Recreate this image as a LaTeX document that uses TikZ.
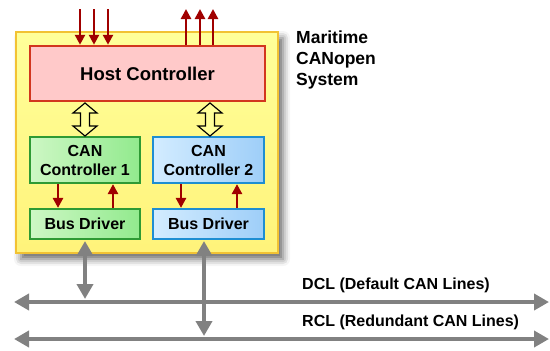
\documentclass[tikz,border=0pt]{standalone}
\usepackage{fontspec}
\setmainfont{Liberation Sans}[BoldFont={Liberation Sans Bold}]
\newfontfamily\bsans{Liberation Sans Bold}
\usetikzlibrary{arrows.meta,shadows.blur}
\definecolor{yfill}{HTML}{FFFF9A}
\definecolor{yfillB}{HTML}{FFF37A}
\definecolor{ydraw}{HTML}{F2C233}
\definecolor{pfill}{HTML}{FFC9C9}
\definecolor{pdraw}{HTML}{D2361E}
\definecolor{gfillL}{HTML}{CDF7C4}
\definecolor{gfillR}{HTML}{92EA8E}
\definecolor{gdraw}{HTML}{2E9A34}
\definecolor{bfillL}{HTML}{D3ECFF}
\definecolor{bfillR}{HTML}{9ECEF8}
\definecolor{bdraw}{HTML}{1E8ED2}
\definecolor{darkred}{HTML}{A00000}
\definecolor{bus}{HTML}{818181}
\tikzset{
  sysbox/.style={draw=ydraw, line width=2bp, top color=yfill, bottom color=yfillB,
    minimum width=262bp, minimum height=221bp, inner sep=0pt,
    blur shadow={shadow xshift=5bp, shadow yshift=-6bp, shadow blur radius=7bp, shadow opacity=60}},
  hostbox/.style={draw=pdraw, fill=pfill, line width=2.5bp, minimum width=235bp, minimum height=55bp,
    inner sep=0pt, font=\bsans\fontsize{18.5bp}{20bp}\selectfont},
  greenbox/.style={draw=gdraw, left color=gfillL, right color=gfillR, line width=2.2bp,
    inner sep=0pt, align=center, font=\bsans\fontsize{16bp}{19bp}\selectfont},
  bluebox/.style={draw=bdraw, left color=bfillL, right color=bfillR, line width=2.2bp,
    inner sep=0pt, align=center, font=\bsans\fontsize{16bp}{19bp}\selectfont},
  redarrow/.style={draw=darkred, line width=2.6bp, -{Triangle[length=10bp,width=10bp]}},
  hollow/.style={draw=black, line width=1.2bp, fill=yfill, line join=miter},
  busline/.style={draw=bus, line width=4bp, {Triangle[length=15bp,width=16bp]}-{Triangle[length=15bp,width=16bp]}},
  lbl/.style={anchor=west, inner sep=0pt, font=\bsans\fontsize{16bp}{19bp}\selectfont},
}
\begin{document}
\begin{tikzpicture}[x=1bp,y=-1bp]
\useasboundingbox (0,0) rectangle (550,350);
% system box
\node[sysbox] (sys) at (147,142.5) {};
% host
\node[hostbox] (host) at (147.5,73.5) {Host Controller};
% CAN controllers
\node[greenbox, minimum width=110bp, minimum height=46bp] (can1) at (85,160) {CAN\\Controller 1};
\node[bluebox, minimum width=111bp, minimum height=46bp] (can2) at (208.5,160) {CAN\\Controller 2};
% bus drivers
\node[greenbox, minimum width=110bp, minimum height=30bp] (bd1) at (85,224) {Bus Driver};
\node[bluebox, minimum width=111bp, minimum height=30bp] (bd2) at (208.5,224) {Bus Driver};
% title
\node[anchor=north west, inner sep=0pt, align=left,
  font=\bsans\fontsize{17.5bp}{21bp}\selectfont] (title) at (296,31) {Maritime\\CANopen\\System};
% input / output arrows of host
\foreach \x [count=\i] in {80,94,108} {
  \coordinate (in\i) at (\x,9);
  \draw[redarrow] (in\i) -- (in\i |- host.north);
}
\foreach \x [count=\i] in {186,200,213} {
  \coordinate (out\i) at (\x,9);
  \draw[redarrow] (out\i |- host.north) -- (out\i);
}
% hollow double arrows host <-> CAN controllers
\foreach \cx/\nm in {85/ha1,210/ha2} {
  \draw[hollow] (\cx,103) -- (\cx+12,113) -- (\cx+4.5,113) -- (\cx+4.5,126) -- (\cx+12,126)
    -- (\cx,136) -- (\cx-12,126) -- (\cx-4.5,126) -- (\cx-4.5,113) -- (\cx-12,113) -- cycle;
}
% red arrows CAN <-> bus driver
\draw[redarrow] (can1.south -| 58,0) -- (bd1.north -| 58,0);
\draw[redarrow] (bd1.north -| 113,0) -- (can1.south -| 113,0);
\draw[redarrow] (can2.south -| 181,0) -- (bd2.north -| 181,0);
\draw[redarrow] (bd2.north -| 237,0) -- (can2.south -| 237,0);
% bus lines
\coordinate (dclL) at (14,302);
\coordinate (dclR) at (549,302);
\coordinate (rclL) at (14,339);
\coordinate (rclR) at (549,339);
\draw[busline] (dclL) -- (dclR);
\draw[busline] (rclL) -- (rclR);
\coordinate (v1t) at (85,241);
\coordinate (v1b) at (85,299);
\coordinate (v2t) at (204,241);
\coordinate (v2b) at (204,336);
\draw[busline] (v1t) -- (v1b);
\draw[busline] (v2t) -- (v2b);
% labels
\node[lbl] (dcl) at (302,285) {DCL (Default CAN Lines)};
\node[lbl] (rcl) at (302,322) {RCL (Redundant CAN Lines)};
\end{tikzpicture}
\end{document}
